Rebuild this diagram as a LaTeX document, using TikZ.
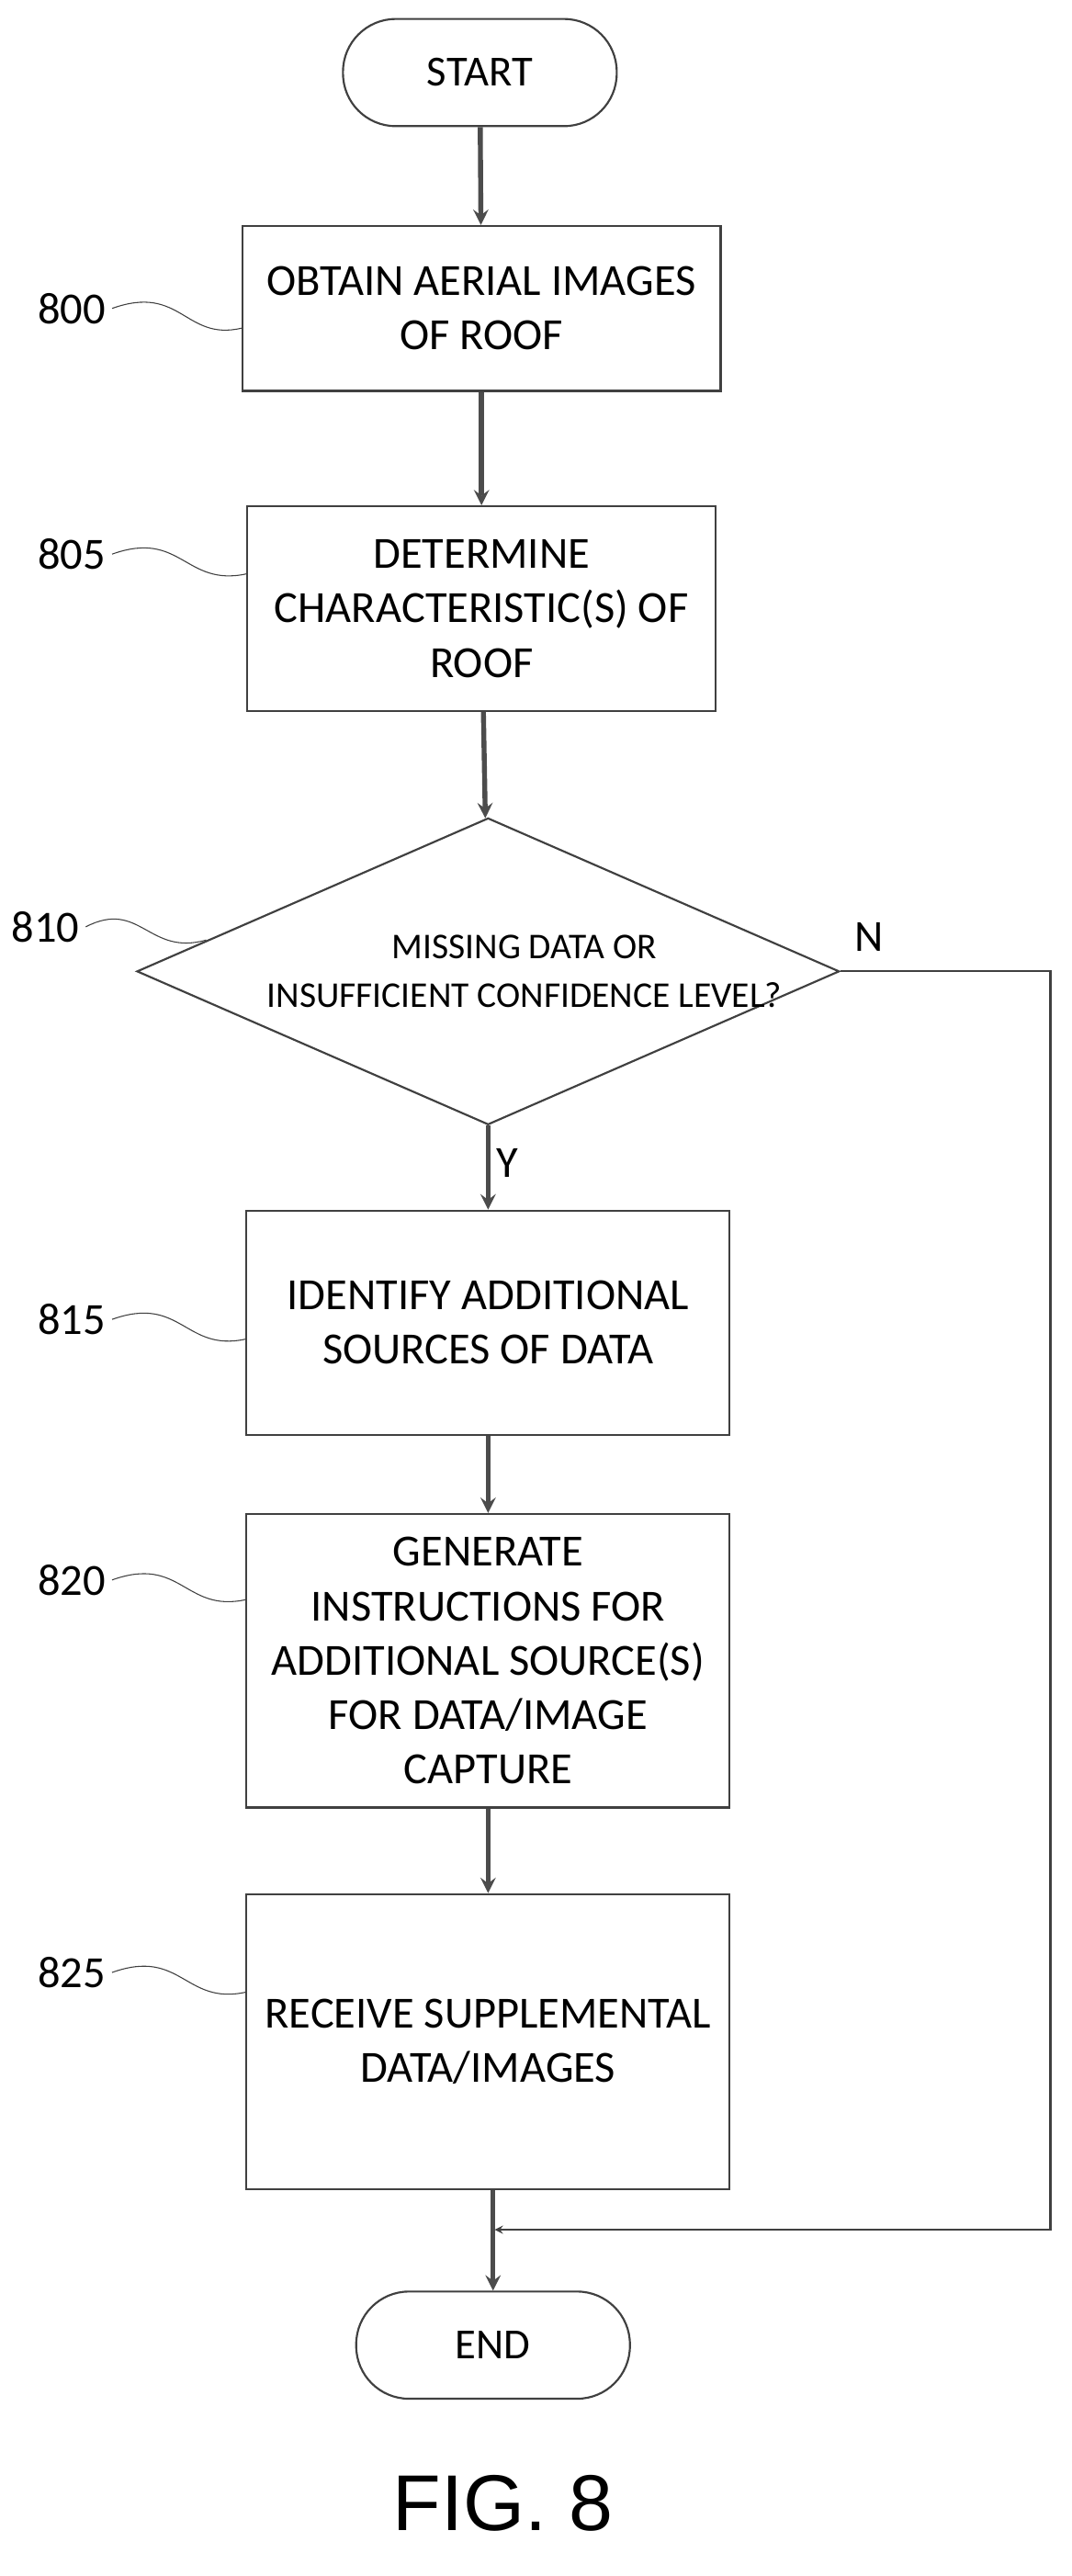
\documentclass[tikz,border=0pt]{standalone}
\usepackage{fontspec}
\setmainfont{Carlito}
\newfontfamily\figfont{Liberation Sans}
\usetikzlibrary{shapes.geometric,positioning}
\tikzset{
		>=stealth
	}
\begin{document}
\begin{tikzpicture}[x=1pt,y=-1pt,line width=1.2pt,draw=black!75,
    box/.style={draw,minimum width=290pt,align=center,font=\fontsize{27}{33}\selectfont},
    term/.style={draw,rounded corners=32pt,minimum width=166pt,minimum height=65pt,font=\fontsize{26}{30}\selectfont},
    lbl/.style={font=\fontsize{27}{30}\selectfont},
    flow/.style={->,line width=3pt,draw=black!70}]
          \useasboundingbox (0,0) rectangle (650,1562);

          \node[term] (start) at (291,44) {START};
          \node[box,minimum height=100pt] (b800) at (292,187) {OBTAIN AERIAL IMAGES\\OF ROOF};
          \node[box,minimum width=284pt,minimum height=124pt] (b805) at (292,369) {DETERMINE\\CHARACTERISTIC(S) OF\\ROOF};
          \node[draw,diamond,aspect=2.3,minimum width=426pt,minimum height=186pt,inner sep=0pt] (d810) at (296,589) {};
          \node[align=center,font=\fontsize{22}{30}\selectfont] at (318,589) {MISSING DATA OR\\INSUFFICIENT CONFIDENCE LEVEL?};
          \node[box,minimum width=293pt,minimum height=136pt] (b815) at (296,802) {IDENTIFY ADDITIONAL\\SOURCES OF DATA};
          \node[box,minimum width=293pt,minimum height=178pt] (b820) at (296,1007) {GENERATE\\INSTRUCTIONS FOR\\ADDITIONAL SOURCE(S)\\FOR DATA/IMAGE\\CAPTURE};
          \node[box,minimum width=293pt,minimum height=179pt] (b825) at (296,1238) {RECEIVE SUPPLEMENTAL\\DATA/IMAGES};
          \node[term] (end) at (299,1422) {END};

          \draw[flow] (start) -- (b800);
          \draw[flow] (b800) -- (b805);
          \draw[flow] (b805) -- (d810);
          \draw[flow] (d810) -- (b815) node[pos=0.45,right,lbl]{Y};
          \draw[flow] (b815) -- (b820);
          \draw[flow] (b820) -- (b825);
          \draw[flow] (b825.south -| end) -- (end);
          \coordinate (nc) at (637,1352);
          \draw[->,line width=1.2pt] (d810.east) -| (nc) -- (300,1352);
          \node[lbl] at (527,568) {N};

          % step numbers
          \foreach \n/\y/\t in {800/187/b800,805/336/b805,815/800/b815,820/958/b820,825/1196/b825}{
            \node[lbl,anchor=east] (l\n) at (68,\y) {\n};
            \draw[line width=0.6pt] (l\n.east) .. controls (110,\y-15) and (112,\y+20) .. (\t.west |- 0,\y+12);
          }
          \node[lbl,anchor=east] (l810) at (52,562) {810};
          \draw[line width=0.6pt] (l810.east) .. controls (85,545) and (90,580) .. (125,570);

          \node[font=\figfont\fontsize{48}{56}\selectfont] (fig) at (305,1518) {FIG. 8};
\end{tikzpicture}
\end{document}
